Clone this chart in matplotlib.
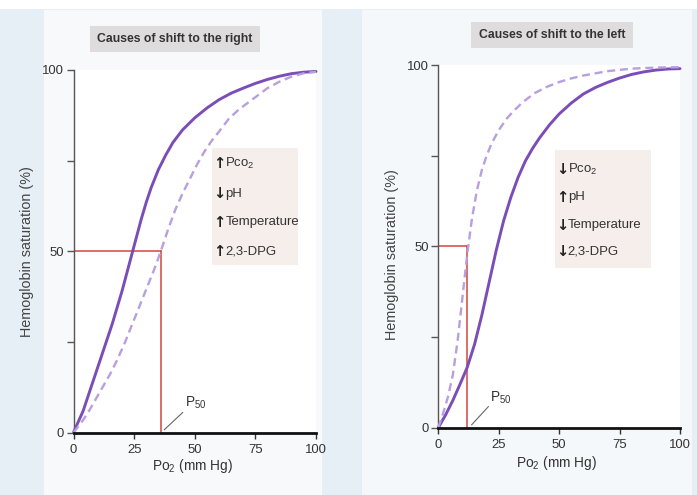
import matplotlib
matplotlib.use("Agg")
import matplotlib.pyplot as plt
from matplotlib.patches import Rectangle
from matplotlib import font_manager

# ---------------- data ----------------
x_ticks = [0, 25, 50, 75, 100]
y_ticks = [0, 25, 50, 75, 100]
y_ticklabels = ["0", "", "50", "", "100"]

# left panel: normal curve (solid) and right-shifted curve (dashed)
right_solid_x = [0, 2, 4, 6, 8, 10, 12, 14, 16, 18, 20, 22, 24, 26, 28, 30, 32, 35, 38, 41, 45,
                 50, 55, 60, 65, 70, 75, 80, 85, 90, 95, 100]
right_solid_y = [0, 3, 6, 10, 14, 18, 22, 26, 30, 34.5, 39, 44, 49, 54, 59, 63.5, 67.5, 72.5, 76.5,
                 80, 83.5, 86.8, 89.5, 91.8, 93.6, 95, 96.3, 97.4, 98.3, 99, 99.4, 99.6]
right_dash_x = [0, 3, 6, 9, 12, 15, 18, 21, 24, 27, 30, 33, 36, 39, 42, 45, 48, 51, 54, 57, 60,
                64, 68, 72, 76, 80, 85, 90, 95, 100]
right_dash_y = [0, 2.5, 5.5, 9, 12.5, 16, 20, 24.5, 29.5, 34.5, 39.5, 44.5, 50, 56, 61.5, 66, 70,
                74, 77.5, 80.5, 83, 86.5, 89, 91, 93, 95, 96.8, 98.2, 99.1, 99.5]
right_p50 = 36

# right panel: normal curve (solid) and left-shifted curve (dashed)
left_solid_x = [0, 3, 6, 9, 12, 15, 18, 21, 24, 27, 30, 33, 36, 39, 42, 46, 50, 55, 60, 65, 70,
                75, 80, 85, 90, 95, 100]
left_solid_y = [0, 3.5, 7.5, 12, 16.7, 23, 31, 40, 49, 57, 63.5, 69, 73.5, 77, 80, 83.5, 86.5,
                89.5, 92, 93.8, 95.2, 96.4, 97.4, 98.1, 98.6, 98.9, 99]
left_dash_x = [0, 2, 4, 6, 8, 10, 12, 14, 16, 18, 20, 22, 25, 28, 31, 35, 40, 45, 50, 55, 60,
               70, 80, 90, 100]
left_dash_y = [0, 4, 8.5, 14.5, 24, 36, 48, 58, 65.5, 71, 75, 78.3, 82, 85, 87.2, 89.8, 92.3,
               94, 95.3, 96.3, 97.1, 98.3, 99, 99.3, 99.4]
left_p50 = 12

titles = ["Causes of shift to the right", "Causes of shift to the left"]
causes_right = [("\u2191", "Pco$_2$"), ("\u2193", "pH"), ("\u2191", "Temperature"), ("\u2191", "2,3-DPG")]
causes_left = [("\u2193", "Pco$_2$"), ("\u2191", "pH"), ("\u2193", "Temperature"), ("\u2193", "2,3-DPG")]
ylabel = "Hemoglobin saturation (%)"
xlabel = "Po$_2$ (mm Hg)"

# ---------------- style ----------------
avail = {f.name for f in font_manager.fontManager.ttflist}
fam = ["Liberation Sans Narrow", "DejaVu Sans"] if "Liberation Sans Narrow" in avail else ["Liberation Sans", "DejaVu Sans"]
plt.rcParams["font.family"] = fam
plt.rcParams["mathtext.fontset"] = "custom"
plt.rcParams["mathtext.rm"] = fam[0]
plt.rcParams["mathtext.it"] = fam[0]
plt.rcParams["mathtext.default"] = "rm"
narrow = fam[0] == "Liberation Sans Narrow"
fs_scale = 1.05 if narrow else 0.9

W, H = 697, 495
fig = plt.figure(figsize=(W / 100, H / 100), dpi=100)
fig.patch.set_facecolor("#e6eef6")

def px(x, y):
    return x / W, 1 - y / H

# pale page areas behind panels
for rx, rw, col in [(44, 278, "#f7f9fb"), (362, 330, "#f4f8fb")]:
    fig.patches.append(Rectangle(px(rx, 495), rw / W, 485 / H, transform=fig.transFigure,
                                 facecolor=col, edgecolor="none", zorder=-5))
fig.patches.append(Rectangle((0, 1 - 9 / H), 1, 9 / H, transform=fig.transFigure,
                             facecolor="white", edgecolor="none", zorder=-5))

solid_c = "#7b4db6"
dash_c = "#b89fe0"
red_c = "#d2473e"

panels = [
    dict(pos=(73.5, 432.5, 316, 70), sx=right_solid_x, sy=right_solid_y, dx=right_dash_x, dy=right_dash_y,
         p50=right_p50, title=titles[0], tpos=(175, 39), causes=causes_right,
         box=(57, 46.2, 35.4, 32.3), arrow_x=60.3, text_x=62.6, rows=[74.3, 65.8, 58.0, 49.8],
         p50_line=((37.5, 0.8), (45, 5.5)), p50_txt=(46, 6.0), ylab=(27, 252), xlab=(193, 466)),
    dict(pos=(438.3, 427.7, 680, 65), sx=left_solid_x, sy=left_solid_y, dx=left_dash_x, dy=left_dash_y,
         p50=left_p50, title=titles[1], tpos=(552, 35), causes=causes_left,
         box=(48.3, 44.0, 39.9, 32.5), arrow_x=51.3, text_x=53.6, rows=[71.3, 63.5, 55.8, 48.7],
         p50_line=((13.8, 0.8), (20.7, 5.8)), p50_txt=(21.5, 6.0), ylab=(392, 255), xlab=(557, 463)),
]

for p in panels:
    x0, y0, x1, y1 = p["pos"]
    ax = fig.add_axes([x0 / W, 1 - y0 / H, (x1 - x0) / W, (y0 - y1) / H])
    ax.set_facecolor("white")
    ax.set_xlim(0, 100)
    ax.set_ylim(0, 100)
    for s in ("top", "right"):
        ax.spines[s].set_visible(False)
    ax.spines["left"].set_color("#555555")
    ax.spines["left"].set_linewidth(1.0)
    ax.spines["bottom"].set_color("#111111")
    ax.spines["bottom"].set_linewidth(2.0)
    ax.set_xticks(x_ticks)
    ax.set_yticks(y_ticks)
    ax.set_yticklabels(y_ticklabels)
    ax.tick_params(axis="x", direction="out", length=4, width=1, color="#333333",
                   labelsize=10.5 * fs_scale, labelcolor="#333333", pad=4)
    ax.tick_params(axis="y", direction="out", length=5, width=1, color="#555555",
                   labelsize=10.5 * fs_scale, labelcolor="#333333", pad=2)
    ax.spines["bottom"].set_zorder(5)

    # P50 reference lines
    ax.plot([0, p["p50"]], [50, 50], color=red_c, lw=1.1, zorder=2)
    ax.plot([p["p50"], p["p50"]], [0, 50], color=red_c, lw=1.1, zorder=2)

    # curves
    ax.plot(p["sx"], p["sy"], color=solid_c, lw=2.1, zorder=3, solid_capstyle="round",
            solid_joinstyle="round", clip_on=False)
    ax.plot(p["dx"], p["dy"], color=dash_c, lw=1.7, ls=(0, (3.4, 2.0)), zorder=3, clip_on=False)

    # P50 leader
    (ax1, ay1), (ax2, ay2) = p["p50_line"]
    ax.plot([ax1, ax2], [ay1, ay2], color="#666666", lw=0.8, zorder=3)
    ax.text(p["p50_txt"][0], p["p50_txt"][1], "P$_{50}$", fontsize=11 * fs_scale, color="#333333",
            ha="left", va="bottom")

    # causes box
    bx, by, bw, bh = p["box"]
    ax.add_patch(Rectangle((bx, by), bw, bh, facecolor="#f5eeeb", edgecolor="none", zorder=1))
    for (arr, txt), yy in zip(p["causes"], p["rows"]):
        ax.text(p["arrow_x"], yy, arr, fontsize=10.5, color="#222222", ha="center", va="center",
                family=["DejaVu Sans"], fontweight="bold", zorder=4)
        ax.text(p["text_x"], yy, txt, fontsize=10.5 * fs_scale, color="#333333", ha="left",
                va="center", zorder=4)

    # title box
    tx, ty = px(*p["tpos"])
    fig.text(tx, ty, p["title"], fontsize=9.8 * fs_scale, fontweight="bold", color="#333333",
             ha="center", va="center",
             bbox=dict(boxstyle="square,pad=0.6", facecolor="#dedcdc", edgecolor="none"))

    # axis labels
    lx, ly = px(*p["ylab"])
    fig.text(lx, ly, ylabel, rotation=90, fontsize=11.5 * fs_scale, color="#444444",
             ha="center", va="center")
    xx, xy = px(*p["xlab"])
    fig.text(xx, xy, xlabel, fontsize=11 * fs_scale, color="#333333", ha="center", va="center")

fig.savefig("out.png", dpi=100, facecolor=fig.get_facecolor())
